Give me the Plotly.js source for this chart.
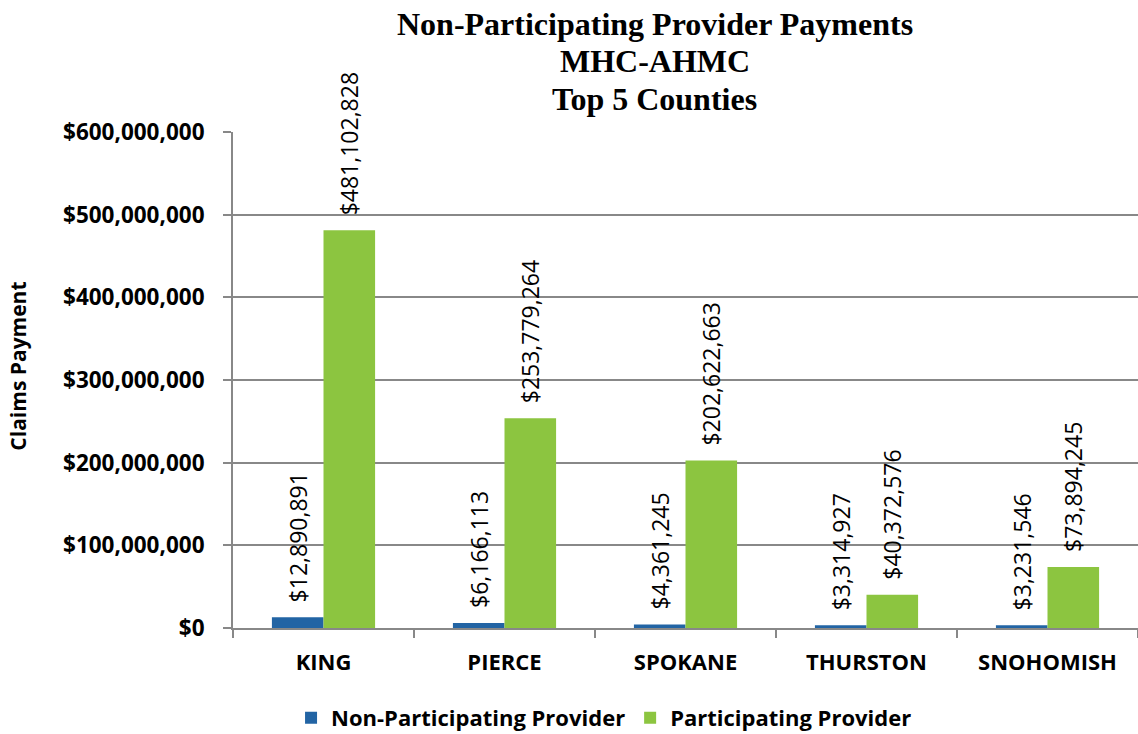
<!DOCTYPE html>
<html>
<head>
<meta charset="utf-8">
<script src="https://cdn.plot.ly/plotly-3.0.1.min.js"></script>
<style>html,body{margin:0;padding:0;background:#fff;}#chart{width:1138px;height:734px;}</style>
</head>
<body>
<div id="chart"></div>
<script>
var counties = ["KING", "PIERCE", "SPOKANE", "THURSTON", "SNOHOMISH"];
var nonParticipating = [12890891, 6166113, 4361245, 3314927, 3231546];
var participating = [481102828, 253779264, 202622663, 40372576, 73894245];
var seriesNames = ["Non-Participating Provider", "Participating Provider"];
var titleLines = ["Non-Participating Provider Payments", "MHC-AHMC", "Top 5 Counties"];
var yAxisTitle = "Claims Payment";

function fmt(v) { return "\u00a0\u00a0$" + v.toLocaleString("en-US"); }

var labelFont = {family: "Open Sans, sans-serif", size: 23, color: "#000"};

var traces = [
  {
    type: "bar", name: seriesNames[0], x: counties, y: nonParticipating,
    marker: {color: "#2264A4"},
    text: nonParticipating.map(fmt), textposition: "outside", textangle: -90,
    constraintext: "none",
    textfont: labelFont, cliponaxis: false, hoverinfo: "x+y"
  },
  {
    type: "bar", name: seriesNames[1], x: counties, y: participating,
    marker: {color: "#8CC540"},
    text: participating.map(fmt), textposition: "outside", textangle: -90,
    constraintext: "none",
    textfont: labelFont, cliponaxis: false, hoverinfo: "x+y"
  }
];

var titleY = [1.2177, 1.1431, 1.0665];
var annotations = titleLines.map(function (t, i) {
  return {
    text: "<b>" + t + "</b>", xref: "paper", yref: "paper",
    x: 0.466, y: titleY[i], xanchor: "center", yanchor: "middle", showarrow: false,
    font: {family: "Liberation Serif, serif", size: 32, color: "#000"}
  };
});
annotations.push({
  text: "<b>" + yAxisTitle + "</b>", textangle: -90,
  xref: "paper", yref: "paper", x: -0.237, y: 0.528, xanchor: "center", yanchor: "middle",
  showarrow: false,
  font: {family: "Open Sans, sans-serif", size: 21, color: "#000"}
});

var layout = {
  width: 1138, height: 734,
  margin: {l: 233, r: 0, t: 132, b: 106},
  paper_bgcolor: "#fff", plot_bgcolor: "#fff",
  barmode: "group", bargap: 0.43, bargroupgap: 0,
  separators: ".,",
  xaxis: {
    type: "category",
    showline: true, linecolor: "#888", linewidth: 2,
    ticks: "outside", tickson: "boundaries", ticklen: 8, tickcolor: "#888", tickwidth: 2,
    ticklabelstandoff: 14,
    tickfont: {family: "Open Sans, sans-serif", size: 22, color: "#000", weight: "bold"},
    showgrid: false, automargin: false
  },
  yaxis: {
    range: [0, 600000000], dtick: 100000000, tick0: 0,
    tickprefix: "$", tickformat: ",d",
    showline: true, linecolor: "#888", linewidth: 2,
    ticks: "outside", ticklen: 8, tickcolor: "#888", tickwidth: 2,
    ticklabelstandoff: 14,
    showgrid: true, gridcolor: "#888", gridwidth: 2,
    zeroline: false,
    tickfont: {family: "Open Sans, sans-serif", size: 22.5, color: "#000", weight: "bold"},
    automargin: false
  },
  showlegend: true,
  legend: {
    orientation: "h", x: 0.41, xanchor: "center",
    yref: "container", y: 0.022, yanchor: "middle",
    font: {family: "Open Sans, sans-serif", size: 22, color: "#000", weight: "bold"},
    itemclick: false, itemdoubleclick: false, traceorder: "normal"
  },
  annotations: annotations
};

Plotly.newPlot("chart", traces, layout, {displayModeBar: false, staticPlot: true});
</script>
</body>
</html>
